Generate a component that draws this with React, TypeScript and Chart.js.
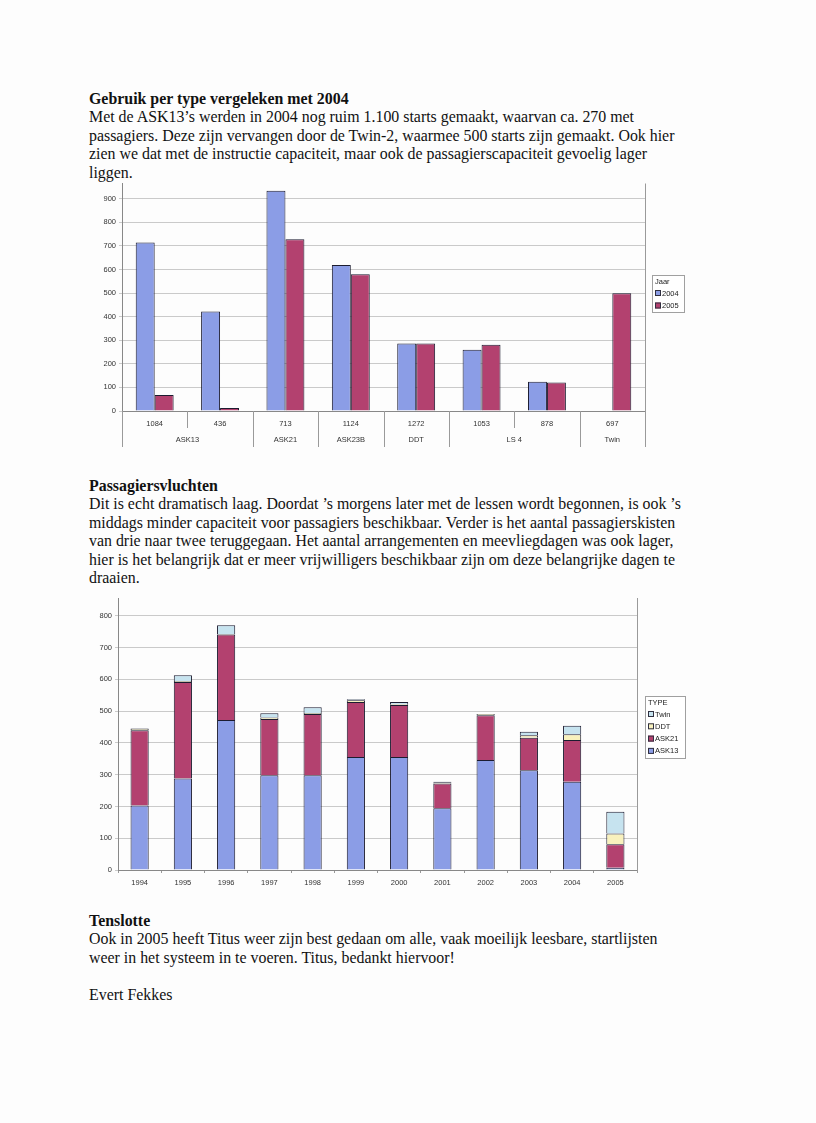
import React, { useEffect, useRef } from 'react';
import { Chart, registerables } from 'chart.js';

Chart.register(...registerables);

// ---------- Chart 1: starts per type, 2004 vs 2005 ----------
const subCategories = ['1084', '436', '713', '1124', '1272', '1053', '878', '697'];
const typeGroups = ['ASK13', 'ASK13', 'ASK21', 'ASK23B', 'DDT', 'LS 4', 'LS 4', 'Twin'];
const starts2004 = [715, 422, 934, 619, 286, 260, 124, 0];
const starts2005 = [68, 13, 728, 580, 286, 281, 121, 499];
const yearSeries = ['2004', '2005'];

// ---------- Chart 2: passenger flights per type per year ----------
const years = ['1994', '1995', '1996', '1997', '1998', '1999', '2000', '2001', '2002', '2003', '2004', '2005'];
const ask13 = [203, 288, 472, 298, 298, 356, 356, 194, 346, 314, 278, 7];
const ask21 = [237, 304, 269, 177, 193, 173, 163, 78, 141, 102, 131, 74];
const ddt = [5, 3, 2, 5, 3, 5, 3, 4, 4, 8, 18, 34];
const twin = [0, 18, 27, 13, 18, 3, 7, 2, 0, 11, 27, 68];
const typeSeries = ['ASK13', 'ASK21', 'DDT', 'Twin'];

const BLUE = '#8b9de6';
const RED = '#b3416f';
const YELLOW = '#f8f1bd';
const LIGHTBLUE = '#c6e3ef';
const EDGE = '#1c1c30';
const SANS = '"Liberation Sans", Arial, sans-serif';
const SERIF = '"Liberation Serif", "Times New Roman", serif';

type LegendBox = { x: number; y: number; w: number; h: number; title: string; firstRow: number; rowH: number; order: number[] };

const makeLegend = (o: LegendBox) => ({
  id: 'boxLegend',
  afterDraw(chart: any) {
    const ctx = chart.ctx;
    ctx.save();
    ctx.fillStyle = '#ffffff';
    ctx.fillRect(o.x, o.y, o.w, o.h);
    ctx.strokeStyle = '#a0a0a0';
    ctx.lineWidth = 1;
    ctx.strokeRect(o.x + 0.5, o.y + 0.5, o.w, o.h);
    ctx.font = `7.5px ${SANS}`;
    ctx.textBaseline = 'middle';
    ctx.textAlign = 'left';
    ctx.fillStyle = '#222';
    ctx.fillText(o.title, o.x + 3, o.y + 6.5);
    o.order.forEach((idx, k) => {
      const d = chart.data.datasets[idx];
      const cy = o.y + o.firstRow + k * o.rowH;
      ctx.fillStyle = d.backgroundColor;
      ctx.fillRect(o.x + 3, cy - 3, 6, 6);
      ctx.strokeStyle = '#303040';
      ctx.strokeRect(o.x + 3.5, cy - 2.5, 5, 5);
      ctx.fillStyle = '#222';
      ctx.fillText(d.label, o.x + 10, cy + 0.5);
    });
    ctx.restore();
  },
});

const groupAxisPlugin = {
  id: 'groupAxis',
  afterDraw(chart: any) {
    const { ctx, chartArea, scales } = chart;
    const { left, right, top, bottom } = chartArea;
    const x = scales.x;
    const n = subCategories.length;
    ctx.save();
    ctx.strokeStyle = '#9a9a9a';
    ctx.lineWidth = 1;
    const line = (px: number, y0: number, y1: number) => {
      ctx.beginPath();
      ctx.moveTo(Math.round(px) + 0.5, y0);
      ctx.lineTo(Math.round(px) + 0.5, y1);
      ctx.stroke();
    };
    const deep = bottom + 36;
    const shallow = bottom + 17;
    line(left, bottom, deep);
    line(right, top, deep);
    for (let i = 0; i < n - 1; i++) {
      const bx = (x.getPixelForValue(i) + x.getPixelForValue(i + 1)) / 2;
      line(bx, bottom, typeGroups[i] === typeGroups[i + 1] ? shallow : deep);
    }
    ctx.font = `7.5px ${SANS}`;
    ctx.fillStyle = '#333';
    ctx.textAlign = 'center';
    ctx.textBaseline = 'middle';
    let start = 0;
    for (let i = 1; i <= n; i++) {
      if (i === n || typeGroups[i] !== typeGroups[start]) {
        const cx = (x.getPixelForValue(start) + x.getPixelForValue(i - 1)) / 2;
        ctx.fillText(typeGroups[start], cx, bottom + 29);
        start = i;
      }
    }
    ctx.restore();
  },
};

const rightBorderPlugin = {
  id: 'rightBorder',
  afterDraw(chart: any) {
    const { ctx, chartArea } = chart;
    ctx.save();
    ctx.strokeStyle = '#9a9a9a';
    ctx.lineWidth = 1;
    ctx.beginPath();
    ctx.moveTo(Math.round(chartArea.right) + 0.5, chartArea.top);
    ctx.lineTo(Math.round(chartArea.right) + 0.5, chartArea.bottom + 2);
    ctx.stroke();
    ctx.restore();
  },
};

function TypeChart() {
  const ref = useRef<HTMLCanvasElement>(null);
  useEffect(() => {
    if (!ref.current) return;
    const chart = new Chart(ref.current, {
      type: 'bar',
      data: {
        labels: subCategories,
        datasets: [
          { label: yearSeries[0], data: starts2004, backgroundColor: BLUE, borderColor: EDGE, borderWidth: 1, categoryPercentage: 0.58, barPercentage: 1 },
          { label: yearSeries[1], data: starts2005, backgroundColor: RED, borderColor: EDGE, borderWidth: 1, categoryPercentage: 0.58, barPercentage: 1 },
        ],
      },
      options: {
        responsive: false,
        animation: false,
        layout: { padding: { top: 7, right: 55, left: 0, bottom: 0 } },
        plugins: { legend: { display: false }, tooltip: { enabled: false } },
        scales: {
          x: {
            grid: { display: false, drawTicks: false, tickLength: 0 },
            border: { display: true, color: '#888' },
            ticks: { font: { family: SANS, size: 7.5 }, color: '#333', padding: 8, maxRotation: 0, autoSkip: false },
            afterFit: (s: any) => { s.height = 41; },
          },
          y: {
            min: 0,
            max: 965,
            ticks: { stepSize: 100, includeBounds: false, font: { family: SANS, size: 7.5 }, color: '#333', padding: 3 },
            grid: { color: '#cacaca', tickLength: 3 },
            border: { color: '#888' },
            afterFit: (s: any) => { s.width = 42; },
          },
        },
      } as any,
      plugins: [groupAxisPlugin, makeLegend({ x: 572, y: 99, w: 32, h: 37, title: 'Jaar', firstRow: 18, rowH: 12.5, order: [0, 1] })],
    });
    return () => chart.destroy();
  }, []);
  return <canvas ref={ref} width={620} height={276} style={{ position: 'absolute', left: 80, top: 176, width: 620, height: 276 }} />;
}

function PassengerChart() {
  const ref = useRef<HTMLCanvasElement>(null);
  useEffect(() => {
    if (!ref.current) return;
    const colors = [BLUE, RED, YELLOW, LIGHTBLUE];
    const values = [ask13, ask21, ddt, twin];
    const chart = new Chart(ref.current, {
      type: 'bar',
      data: {
        labels: years,
        datasets: typeSeries.map((name, i) => ({
          label: name,
          data: values[i],
          backgroundColor: colors[i],
          borderColor: EDGE,
          borderWidth: 1,
          categoryPercentage: 1,
          barPercentage: 0.42,
        })),
      },
      options: {
        responsive: false,
        animation: false,
        layout: { padding: { top: 8, right: 63, left: 0, bottom: 0 } },
        plugins: { legend: { display: false }, tooltip: { enabled: false } },
        scales: {
          x: {
            stacked: true,
            grid: { display: true, drawOnChartArea: false, offset: true, tickLength: 3, color: '#999' },
            border: { display: true, color: '#888' },
            ticks: { font: { family: SANS, size: 7.5 }, color: '#333', padding: 5, maxRotation: 0, autoSkip: false },
            afterFit: (s: any) => { s.height = 25; },
          },
          y: {
            stacked: true,
            min: 0,
            max: 856,
            ticks: { stepSize: 100, includeBounds: false, font: { family: SANS, size: 7.5 }, color: '#333', padding: 3 },
            grid: { color: '#cacaca', tickLength: 3 },
            border: { color: '#888' },
            afterFit: (s: any) => { s.width = 38; },
          },
        },
      } as any,
      plugins: [rightBorderPlugin, makeLegend({ x: 565, y: 106, w: 40, h: 62, title: 'TYPE', firstRow: 18, rowH: 12.3, order: [3, 2, 1, 0] })],
    });
    return () => chart.destroy();
  }, []);
  return <canvas ref={ref} width={620} height={305} style={{ position: 'absolute', left: 80, top: 590, width: 620, height: 305 }} />;
}

const textStyle: React.CSSProperties = {
  position: 'absolute',
  left: 89,
  fontFamily: SERIF,
  fontSize: 15.9,
  lineHeight: '18.4px',
  whiteSpace: 'pre',
  color: '#111',
};

export default function App() {
  return (
    <div style={{ position: 'absolute', left: 0, top: 0, width: 816, height: 1123, background: '#fdfdfd', overflow: 'hidden' }}>
      <div style={{ ...textStyle, top: 90 }}>
        <b>Gebruik per type vergeleken met 2004</b>
        {'\nMet de ASK13’s werden in 2004 nog ruim 1.100 starts gemaakt, waarvan ca. 270 met\npassagiers. Deze zijn vervangen door de Twin-2, waarmee 500 starts zijn gemaakt. Ook hier\nzien we dat met de instructie capaciteit, maar ook de passagierscapaciteit gevoelig lager\nliggen.'}
      </div>
      <TypeChart />
      <div style={{ ...textStyle, top: 477 }}>
        <b>Passagiersvluchten</b>
        {'\nDit is echt dramatisch laag. Doordat ’s morgens later met de lessen wordt begonnen, is ook ’s\nmiddags minder capaciteit voor passagiers beschikbaar. Verder is het aantal passagierskisten\nvan drie naar twee teruggegaan. Het aantal arrangementen en meevliegdagen was ook lager,\nhier is het belangrijk dat er meer vrijwilligers beschikbaar zijn om deze belangrijke dagen te\ndraaien.'}
      </div>
      <PassengerChart />
      <div style={{ ...textStyle, top: 912 }}>
        <b>Tenslotte</b>
        {'\nOok in 2005 heeft Titus weer zijn best gedaan om alle, vaak moeilijk leesbare, startlijsten\nweer in het systeem in te voeren. Titus, bedankt hiervoor!\n\nEvert Fekkes'}
      </div>
    </div>
  );
}
